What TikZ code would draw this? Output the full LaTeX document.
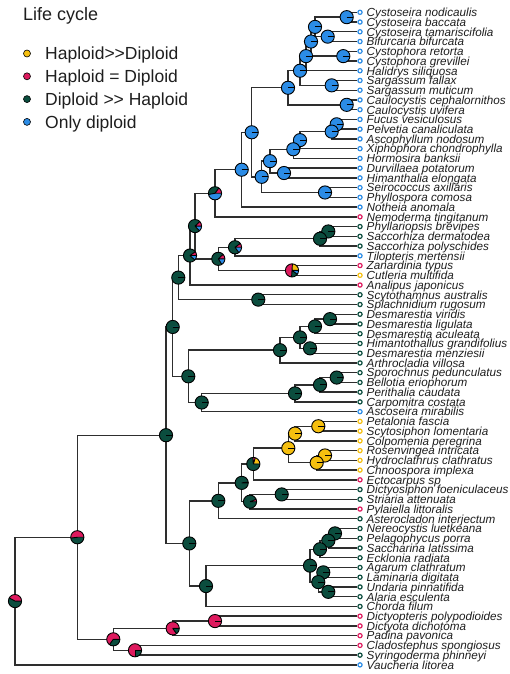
\documentclass[tikz,border=0pt]{standalone}
\usepackage{fontspec}
\setmainfont{Liberation Sans}
\definecolor{cY}{HTML}{F5BF0F}
\definecolor{cP}{HTML}{DE1A5E}
\definecolor{cG}{HTML}{0B4D3E}
\definecolor{cB}{HTML}{2B8CE6}
\definecolor{txt}{HTML}{1E1E1E}
\def\pr{6.6}
\newcommand{\drawpie}[5]{%
 \begin{scope}[shift={(#1)},yscale=-1]
  \pgfmathsetmacro{\aB}{360*#2}
  \pgfmathsetmacro{\aC}{\aB+360*#3}
  \pgfmathsetmacro{\aD}{\aC+360*#4}
  \fill[cY] (0,0) -- (0:\pr) arc[start angle=0,end angle=\aB,radius=\pr] -- cycle;
  \fill[cP] (0,0) -- (\aB:\pr) arc[start angle=\aB,end angle=\aC,radius=\pr] -- cycle;
  \fill[cG] (0,0) -- (\aC:\pr) arc[start angle=\aC,end angle=\aD,radius=\pr] -- cycle;
  \fill[cB] (0,0) -- (\aD:\pr) arc[start angle=\aD,end angle=360,radius=\pr] -- cycle;
  \draw[pieline] (0,0) -- (0:\pr) (0,0) -- (\aB:\pr) (0,0) -- (\aC:\pr) (0,0) -- (\aD:\pr);
  \draw[pieline] (0,0) circle[radius=\pr];
 \end{scope}}
\begin{document}
\begin{tikzpicture}[x=1pt,y=-1pt,
  edge/.style={draw=black!82,line width=1.4pt},
  pieline/.style={draw=black,line width=0.9pt},
  tipc/.style={circle,inner sep=0pt,minimum size=4.2pt,line width=1.2pt,fill=white},
  tiplab/.style={anchor=base west,inner sep=0pt,text=txt,font=\fontsize{11.7}{12}\selectfont\itshape},
  legtxt/.style={anchor=base west,inner sep=0pt,text=txt,font=\fontsize{17.5}{18}\selectfont},
  legdot/.style={circle,inner sep=0pt,minimum size=7pt,draw=black,line width=0.6pt}]
\useasboundingbox (0,0) rectangle (509,674);
% legend
\node[legtxt,font=\fontsize{18}{20}\selectfont] (title) at (23,20.7) {Life cycle};
\foreach \k/\c/\t [count=\j] in {53.5/cY/Haploid>{}>Diploid, 76.3/cP/Haploid = Diploid, 99.1/cG/Diploid >{}> Haploid, 121.9/cB/Only diploid}{
  \node[legdot,fill=\c] (ld\j) at (27,\k) {};
  \node[legtxt] (lt\j) at (45,\k+6.2) {\t};
}
% tips
\foreach \i/\c/\lab in {1/cB/Cystoseira nodicaulis,2/cB/Cystoseira baccata,3/cB/Cystoseira tamariscifolia,4/cB/Bifurcaria bifurcata,5/cB/Cystophora retorta,6/cB/Cystophora grevillei,7/cB/Halidrys siliquosa,8/cB/Sargassum fallax,9/cB/Sargassum muticum,10/cB/Caulocystis cephalornithos,11/cB/Caulocystis uvifera,12/cB/Fucus vesiculosus,13/cB/Pelvetia canaliculata,14/cB/Ascophyllum nodosum,15/cB/Xiphophora chondrophylla,16/cB/Hormosira banksii,17/cB/Durvillaea potatorum,18/cB/Himanthalia elongata,19/cB/Seirococcus axillaris,20/cB/Phyllospora comosa,21/cB/Notheia anomala,22/cP/Nemoderma tingitanum,23/cG/Phyllariopsis brevipes,24/cG/Saccorhiza dermatodea,25/cG/Saccorhiza polyschides,26/cB/Tilopteris mertensii,27/cP/Zanardinia typus,28/cY/Cutleria multifida,29/cP/Analipus japonicus,30/cG/Scytothamnus australis,31/cG/Splachnidium rugosum,32/cG/Desmarestia viridis,33/cG/Desmarestia ligulata,34/cG/Desmarestia aculeata,35/cG/Himantothallus grandifolius,36/cG/Desmarestia menziesii,37/cG/Arthrocladia villosa,38/cG/Sporochnus pedunculatus,39/cG/Bellotia eriophorum,40/cG/Perithalia caudata,41/cG/Carpomitra costata,42/cB/Ascoseira mirabilis,43/cY/Petalonia fascia,44/cY/Scytosiphon lomentaria,45/cY/Colpomenia peregrina,46/cY/Rosenvingea intricata,47/cY/Hydroclathrus clathratus,48/cY/Chnoospora implexa,49/cP/Ectocarpus sp,50/cG/Dictyosiphon foeniculaceus,51/cG/Striaria attenuata,52/cP/Pylaiella littoralis,53/cG/Asterocladon interjectum,54/cG/Nereocystis luetkeana,55/cG/Pelagophycus porra,56/cG/Saccharina latissima,57/cG/Ecklonia radiata,58/cG/Agarum clathratum,59/cG/Laminaria digitata,60/cG/Undaria pinnatifida,61/cG/Alaria esculenta,62/cG/Chorda filum,63/cP/Dictyopteris polypodioides,64/cP/Dictyota dichotoma,65/cP/Padina pavonica,66/cP/Cladostephus spongiosus,67/cG/Syringoderma phinneyi,68/cB/Vaucheria litorea}{
  \pgfmathsetmacro{\yy}{12.3+(\i-1)*9.74}
  \node[tipc,draw=\c] (t\i) at (360,\yy) {};
  \node[tiplab] (l\i) at (366.5,\yy+4.3) {\lab};
}
% internal nodes
\coordinate (n1) at (346.7,17.17);
\coordinate (n2) at (327.7,36.65);
\coordinate (n3) at (315,26.91);
\coordinate (n4) at (343.3,56.13);
\coordinate (n5) at (311,41.52);
\coordinate (n6) at (306,56.13);
\coordinate (n7) at (331.7,85.35);
\coordinate (n8) at (300,70.74);
\coordinate (n9) at (346.7,104.83);
\coordinate (n10) at (288,87.79);
\coordinate (n11) at (336.7,124.31);
\coordinate (n12) at (331.7,131.62);
\coordinate (n13) at (300,140.14);
\coordinate (n14) at (293.3,149.27);
\coordinate (n15) at (284,173.01);
\coordinate (n16) at (325,192.49);
\coordinate (n17) at (270,161.14);
\coordinate (n18) at (261.7,176.82);
\coordinate (n19) at (251.7,132.30);
\coordinate (n20) at (241.7,169.70);
\coordinate (n21) at (215,193.27);
\coordinate (n22) at (328.3,231.45);
\coordinate (n23) at (320,238.76);
\coordinate (n24) at (235,247.28);
\coordinate (n25) at (292,270.41);
\coordinate (n26) at (218.3,258.84);
\coordinate (n27) at (195,226.06);
\coordinate (n28) at (190,255.54);
\coordinate (n29) at (258.3,299.63);
\coordinate (n30) at (178.3,277.59);
\coordinate (n31) at (330,319.11);
\coordinate (n32) at (315,326.42);
\coordinate (n33) at (310,348.33);
\coordinate (n34) at (300,337.37);
\coordinate (n35) at (280,350.16);
\coordinate (n36) at (336.7,377.55);
\coordinate (n37) at (320,384.86);
\coordinate (n38) at (295,393.38);
\coordinate (n39) at (201.7,402.51);
\coordinate (n40) at (188.3,376.33);
\coordinate (n41) at (172.7,326.96);
\coordinate (n42) at (318.3,426.25);
\coordinate (n43) at (295,433.55);
\coordinate (n44) at (325,455.47);
\coordinate (n45) at (316.7,462.78);
\coordinate (n46) at (288.3,448.16);
\coordinate (n47) at (253.3,463.99);
\coordinate (n48) at (281.7,494.43);
\coordinate (n49) at (250,501.73);
\coordinate (n50) at (241.7,482.86);
\coordinate (n51) at (218.3,500.82);
\coordinate (n52) at (335,533.39);
\coordinate (n53) at (328.3,540.70);
\coordinate (n54) at (320,549.22);
\coordinate (n55) at (323.3,572.35);
\coordinate (n56) at (328.3,591.83);
\coordinate (n57) at (318.3,582.09);
\coordinate (n58) at (310,565.65);
\coordinate (n59) at (206,586.05);
\coordinate (n60) at (189.3,543.43);
\coordinate (n61) at (166,435.20);
\coordinate (n62) at (215,621.05);
\coordinate (n63) at (172.7,628.36);
\coordinate (n64) at (135,650.27);
\coordinate (n65) at (113.3,639.31);
\coordinate (n66) at (77.3,537.26);
\coordinate (n67) at (15,601.07);
% edges
\foreach \p/\c in {n1/t1,n1/t2,n2/t3,n2/t4,n3/n1,n3/n2,n4/t5,n4/t6,n5/n3,n5/n4,n6/n5,n6/t7,n7/t8,n7/t9,n8/n6,n8/n7,n9/t10,n9/t11,n10/n8,n10/n9,n11/t12,n11/t13,n12/n11,n12/t14,n13/n12,n13/t15,n14/n13,n14/t16,n15/t17,n15/t18,n16/t19,n16/t20,n17/n14,n17/n15,n18/n17,n18/n16,n19/n10,n19/n18,n20/n19,n20/t21,n21/n20,n21/t22,n22/t23,n22/t24,n23/n22,n23/t25,n24/n23,n24/t26,n25/t27,n25/t28,n26/n24,n26/n25,n27/n21,n27/n26,n28/n27,n28/t29,n29/t30,n29/t31,n30/n28,n30/n29,n31/t32,n31/t33,n32/n31,n32/t34,n33/t35,n33/t36,n34/n32,n34/n33,n35/n34,n35/t37,n36/t38,n36/t39,n37/n36,n37/t40,n38/n37,n38/t41,n39/n38,n39/t42,n40/n35,n40/n39,n41/n30,n41/n40,n42/t43,n42/t44,n43/n42,n43/t45,n44/t46,n44/t47,n45/n44,n45/t48,n46/n43,n46/n45,n47/n46,n47/t49,n48/t50,n48/t51,n49/n48,n49/t52,n50/n47,n50/n49,n51/n50,n51/t53,n52/t54,n52/t55,n53/n52,n53/t56,n54/n53,n54/t57,n55/t58,n55/t59,n56/t60,n56/t61,n57/n55,n57/n56,n58/n54,n58/n57,n59/n58,n59/t62,n60/n51,n60/n59,n61/n41,n61/n60,n62/t63,n62/t64,n63/n62,n63/t65,n64/t66,n64/t67,n65/n63,n65/n64,n66/n61,n66/n65,n67/n66,n67/t68}{
  \draw[edge] (\p) |- (\c);
}
% pies
\foreach \n/\fy/\fp/\fg/\fb in {n1/0/0/0/1,n2/0/0/0/1,n3/0/0/0/1,n4/0/0/0/1,n5/0/0/0/1,n6/0/0/0/1,n7/0/0/0/1,n8/0/0/0/1,n9/0/0/0/1,n10/0/0/0/1,n11/0/0/0/1,n12/0/0/0/1,n13/0/0/0/1,n14/0/0/0/1,n15/0/0/0/1,n16/0/0/0/1,n17/0/0/0/1,n18/0/0/0/1,n19/0/0/0/1,n20/0/0/0/1,
  n21/0/0.15/0.38/0.47,n22/0/0/1/0,n23/0/0/1/0,n24/0/0.1/0.75/0.15,n25/0.24/0.5/0.16/0.1,n26/0/0.12/0.72/0.16,n27/0/0.12/0.75/0.13,n28/0/0.1/0.78/0.12,
  n29/0/0/1/0,n30/0/0/1/0,n31/0/0/1/0,n32/0/0/1/0,n33/0/0/1/0,n34/0/0/1/0,n35/0/0/1/0,n36/0/0/1/0,n37/0/0/1/0,n38/0/0/1/0,n39/0/0/1/0,n40/0/0/1/0,n41/0/0/1/0,
  n42/1/0/0/0,n43/1/0/0/0,n44/1/0/0/0,n45/1/0/0/0,n46/1/0/0/0,n47/0.2/0.06/0.74/0,n48/0/0/1/0,n49/0/0.06/0.94/0,n50/0/0.02/0.98/0,
  n51/0/0/1/0,n52/0/0/1/0,n53/0/0/1/0,n54/0/0/1/0,n55/0/0/1/0,n56/0/0/1/0,n57/0/0/1/0,n58/0/0/1/0,n59/0/0/1/0,n60/0/0/1/0,n61/0/0/1/0,
  n62/0/1/0/0,n63/0/0.85/0.15/0,n64/0/0.75/0.25/0,n65/0/0.65/0.35/0,n66/0/0.52/0.48/0,n67/0/0.42/0.58/0}{
  \drawpie{\n}{\fy}{\fp}{\fg}{\fb}
}
\end{tikzpicture}
\end{document}
